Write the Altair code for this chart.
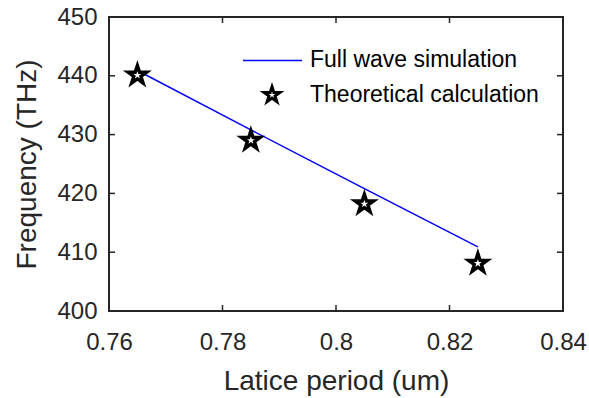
import altair as alt
import pandas as pd

# ---- data ----
period_sim = [0.765, 0.785, 0.805, 0.825]
freq_sim = [440.9, 430.8, 420.8, 410.9]
period_theory = [0.765, 0.785, 0.805, 0.825]
freq_theory = [440.1, 429.0, 418.2, 408.1]
x_ticks = [0.76, 0.78, 0.80, 0.82, 0.84]
y_ticks = [400, 410, 420, 430, 440, 450]
legend_labels = ["Full wave simulation", "Theoretical calculation"]

W, H = 454, 294
FONT = "Liberation Sans"
AX = "#262626"

sim = pd.DataFrame({"period": period_sim, "freq": freq_sim})
theory = pd.DataFrame({"period": period_theory, "freq": freq_theory})
xt = pd.DataFrame({"period": x_ticks})
yt = pd.DataFrame({"freq": y_ticks})
one = pd.DataFrame({"k": [0]})

xscale = alt.Scale(domain=[0.76, 0.84], nice=False, zero=False)
yscale = alt.Scale(domain=[400, 450], nice=False, zero=False)

xaxis = alt.Axis(title="Latice period (um)", values=x_ticks, format=".2~f",
                 ticks=False, domain=False, grid=False,
                 labelFont=FONT, labelFontSize=24, labelColor=AX,
                 labelPadding=19, labelFlush=False,
                 titleFont=FONT, titleFontSize=28, titleColor=AX,
                 titleFontWeight="normal", titleBaseline="alphabetic",
                 titleY=78, titleX=W / 2)
yaxis = alt.Axis(title="Frequency (THz)", values=y_ticks,
                 ticks=False, domain=False, grid=False,
                 labelFont=FONT, labelFontSize=24, labelColor=AX,
                 labelPadding=12, labelFlush=False,
                 titleFont=FONT, titleFontSize=28, titleColor=AX,
                 titleFontWeight="normal", titleBaseline="alphabetic",
                 titleX=-74, titleY=H / 2, titleAngle=-90)

X = alt.X("period:Q", scale=xscale, axis=xaxis)
Y = alt.Y("freq:Q", scale=yscale, axis=yaxis)

STAR = ("M0,-1L0.2245,-0.309L0.951,-0.309L0.363,0.118L0.588,0.809L0,0.382"
        "L-0.588,0.809L-0.363,0.118L-0.951,-0.309L-0.2245,-0.309Z")

line = alt.Chart(sim).mark_line(color="#0000ff", strokeWidth=1.5).encode(x=X, y=Y)

stars = alt.Chart(theory).mark_point(
    shape=STAR, size=380, filled=True, fill="white", stroke="black",
    strokeWidth=3.4, opacity=1, strokeJoin="miter"
).encode(x=X, y=Y)

tick_style = dict(color=AX, strokeWidth=1.5)
xt_bot = alt.Chart(xt).mark_rule(**tick_style).encode(
    x=X, y=alt.value(H), y2=alt.value(H - 6))
xt_top = alt.Chart(xt).mark_rule(**tick_style).encode(
    x=X, y=alt.value(0), y2=alt.value(6))
yt_left = alt.Chart(yt).mark_rule(**tick_style).encode(
    y=Y, x=alt.value(0), x2=alt.value(6))
yt_right = alt.Chart(yt).mark_rule(**tick_style).encode(
    y=Y, x=alt.value(W), x2=alt.value(W - 6))

# ---- legend (no box) ----
leg_line = alt.Chart(one).mark_rule(color="#0000ff", strokeWidth=1.5).encode(
    x=alt.value(134), x2=alt.value(193), y=alt.value(43.5))
leg_star = alt.Chart(one).mark_point(
    shape=STAR, size=270, filled=True, fill="white", stroke="black",
    strokeWidth=3.0, opacity=1, strokeJoin="miter"
).encode(x=alt.value(163), y=alt.value(78))
leg_text1 = alt.Chart(one).mark_text(
    text=legend_labels[0], font=FONT, fontSize=23, align="left", baseline="middle",
    color="black").encode(x=alt.value(201), y=alt.value(43))
leg_text2 = alt.Chart(one).mark_text(
    text=legend_labels[1], font=FONT, fontSize=23, align="left", baseline="middle",
    color="black").encode(x=alt.value(201), y=alt.value(78))

chart = alt.layer(
    line, stars, xt_bot, xt_top, yt_left, yt_right,
    leg_line, leg_star, leg_text1, leg_text2
).properties(
    width=W, height=H,
    autosize=alt.AutoSizeParams(type="none"),
    padding={"left": 109, "top": 17, "right": 26, "bottom": 87},
    background="white",
).configure_view(stroke=AX, strokeWidth=2)

chart.save("out.html", embed_options={"renderer": "svg", "actions": False})
